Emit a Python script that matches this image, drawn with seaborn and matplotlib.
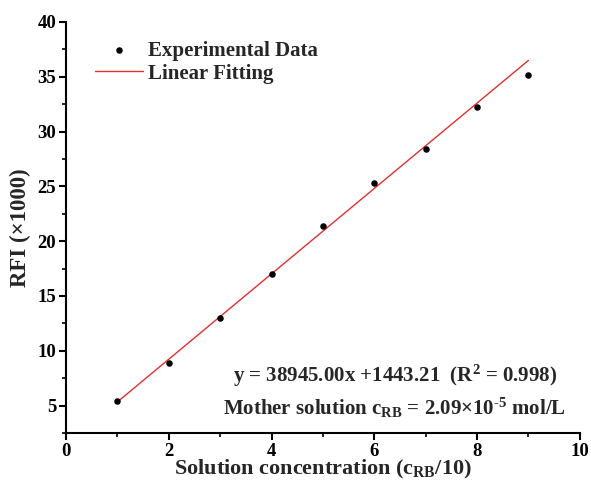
import numpy as np
import pandas as pd
import matplotlib
matplotlib.use("Agg")
import matplotlib.pyplot as plt
import seaborn as sns

# Data
conc = [1, 2, 3, 4, 5, 6, 7, 8, 9]
rfi = [5.45, 8.89, 13.02, 17.03, 21.38, 25.27, 28.40, 32.26, 35.12]
fit_slope = 3.8945
fit_intercept = 1.44321
x_ticks = [0, 2, 4, 6, 8, 10]
y_ticks = [5, 10, 15, 20, 25, 30, 35, 40]

sns.set_style("ticks")
plt.rcParams['font.family'] = ['Liberation Serif', 'DejaVu Serif']
plt.rcParams['font.weight'] = 'bold'
plt.rcParams['mathtext.fontset'] = 'custom'
plt.rcParams['mathtext.rm'] = 'Liberation Serif:bold'
plt.rcParams['mathtext.bf'] = 'Liberation Serif:bold'
plt.rcParams['mathtext.it'] = 'Liberation Serif:bold'

fig = plt.figure(figsize=(5.91, 4.83), dpi=100)
ax = fig.add_axes([0.1117, 0.1035, 0.8693, 0.851])

df = pd.DataFrame({"x": conc, "y": rfi})
xf = np.array([conc[0], conc[-1]], dtype=float)
fit_df = pd.DataFrame({"x": xf, "y": fit_slope * xf + fit_intercept})

sns.lineplot(data=fit_df, x="x", y="y", ax=ax, color="#e03030", linewidth=1.0,
             label="Linear Fitting", zorder=2)
sns.scatterplot(data=df, x="x", y="y", ax=ax, color="black", s=22, edgecolor="black",
                linewidth=0, label="Experimental Data", zorder=3)

ax.set_xlim(0, 10)
ax.set_ylim(2.5, 40)
ax.set_xticks(x_ticks)
ax.set_yticks(y_ticks)
ax.set_xticks([1, 3, 5, 7, 9], minor=True)
ax.set_yticks([2.5, 7.5, 12.5, 17.5, 22.5, 27.5, 32.5, 37.5], minor=True)
ax.tick_params(axis='both', which='major', direction='out', length=5, width=1.5,
               labelsize=13.5, color='black', labelcolor='black', pad=2)
ax.tick_params(axis='both', which='minor', direction='out', length=3, width=1.2, color='black')
for lab in ax.get_xticklabels() + ax.get_yticklabels():
    lab.set_fontweight('bold')

sns.despine(ax=ax)
for s in ['left', 'bottom']:
    ax.spines[s].set_linewidth(1.5)
    ax.spines[s].set_color('black')

ax.set_xlabel("Solution concentration (c$_{\\mathrm{RB}}$/10)", fontsize=16,
              fontweight='bold', labelpad=-1)
ax.set_ylabel("RFI (×1000)", fontsize=16.5, fontweight='bold', labelpad=5)

handles, labels = ax.get_legend_handles_labels()
order = [labels.index("Experimental Data"), labels.index("Linear Fitting")]
leg = ax.legend([handles[i] for i in order], [labels[i] for i in order],
                loc='upper left', bbox_to_anchor=(0.04, 0.975), frameon=False,
                prop={'family': 'Liberation Serif', 'weight': 'bold', 'size': 15},
                handlelength=2.3, handletextpad=0.25, labelspacing=0.15, borderaxespad=0)

ax.text(0.64, 0.14, "y = 38945.00x +1443.21  (R$^2$ = 0.998)", transform=ax.transAxes,
        ha='center', va='center', fontsize=15, fontweight='bold')
ax.text(0.64, 0.06, "Mother solution c$_{\\mathrm{RB}}$ = 2.09×10$^{\\text{-5}}$ mol/L",
        transform=ax.transAxes, ha='center', va='center', fontsize=15, fontweight='bold')

fig.savefig("out.png", dpi=100)
